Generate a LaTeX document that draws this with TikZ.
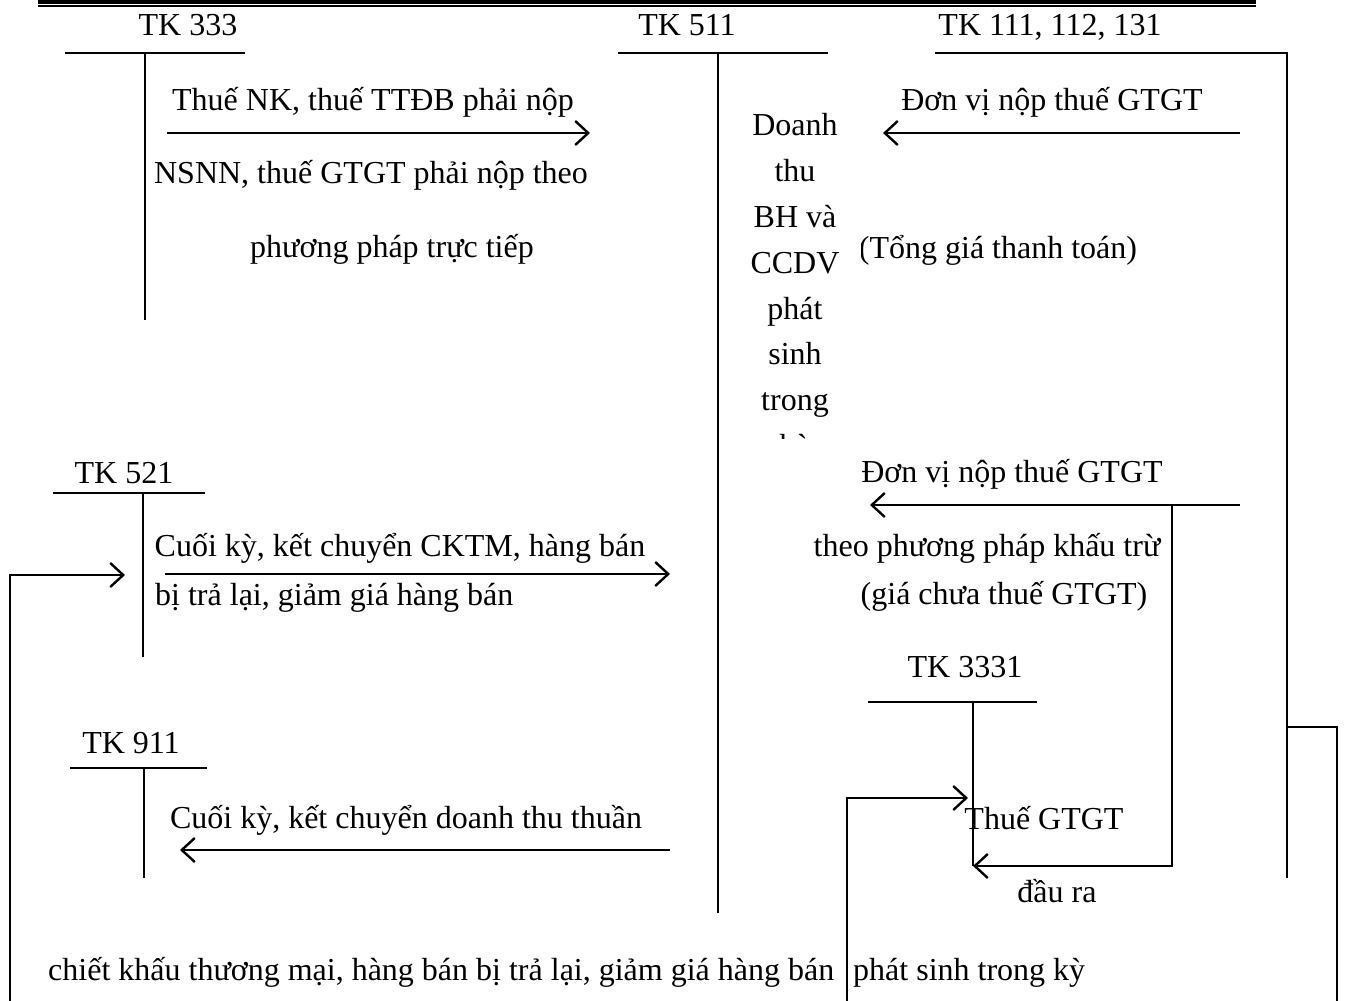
\documentclass[tikz,border=0pt]{standalone}
\usepackage{fontspec}
\setmainfont{Liberation Serif}
\usetikzlibrary{arrows.meta}
\begin{document}
\begin{tikzpicture}[x=1pt,y=-1pt,
  acct/.style={line width=2.6pt},
  conn/.style={line width=2.4pt},
  arr/.style={conn,-{Straight Barb[length=13pt,width=24pt,line width=2.4pt]}},
  lbl/.style={anchor=base,inner sep=0pt,font=\fontsize{32}{38}\selectfont},
]
\useasboundingbox (0,0) rectangle (1345,1001);

% header double rule
\coordinate (h1a) at (38,1.8); \coordinate (h1b) at (1256,1.8);
\coordinate (h2a) at (38,6); \coordinate (h2b) at (1256,6);
\draw[line width=3.6pt] (h1a) -- (h1b);
\draw[line width=2pt] (h2a) -- (h2b);

% ---------- T accounts ----------
% TK 333
\node[lbl] (t333) at (188,35) {TK 333};
\coordinate (a333L) at (65,53); \coordinate (a333R) at (245,53);
\coordinate (a333T) at (145,53); \coordinate (a333B) at (145,320);
\draw[acct] (a333L) -- (a333R);
\draw[acct] (a333T) -- (a333B);
% TK 511
\node[lbl] (t511) at (687,35) {TK 511};
\coordinate (a511L) at (618,53); \coordinate (a511R) at (828,53);
\coordinate (a511T) at (718,53); \coordinate (a511B) at (718,913);
\draw[acct] (a511L) -- (a511R);
\draw[acct] (a511T) -- (a511B);
% TK 111, 112, 131
\node[lbl] (t111) at (1050,35) {TK 111, 112, 131};
\coordinate (a111L) at (935,53); \coordinate (a111R) at (1287,53);
\coordinate (a111B) at (1287,878);
\draw[acct] (a111L) -- (a111R) -- (a111B);
% TK 521
\node[lbl] (t521) at (124,483) {TK 521};
\coordinate (a521L) at (53,493); \coordinate (a521R) at (205,493);
\coordinate (a521T) at (143,493); \coordinate (a521B) at (143,657);
\draw[acct] (a521L) -- (a521R);
\draw[acct] (a521T) -- (a521B);
% TK 3331
\node[lbl] (t3331) at (965,677) {TK 3331};
\coordinate (a3331L) at (868,702); \coordinate (a3331R) at (1037,702);
\coordinate (a3331T) at (973,702); \coordinate (a3331B) at (973,866);
\draw[acct] (a3331L) -- (a3331R);
\draw[acct] (a3331T) -- (a3331B);
% TK 911
\node[lbl] (t911) at (131,753) {TK 911};
\coordinate (a911L) at (70,768); \coordinate (a911R) at (207,768);
\coordinate (a911T) at (144,768); \coordinate (a911B) at (144,878);
\draw[acct] (a911L) -- (a911R);
\draw[acct] (a911T) -- (a911B);

% ---------- labels ----------
\node[lbl] (l1) at (373,110) {Thuế NK, thuế TTĐB phải nộp};
\node[lbl] (l2) at (371,183) {NSNN, thuế GTGT phải nộp theo};
\node[lbl] (l3) at (392,257) {phương pháp trực tiếp};
\node[lbl] (l4) at (1052,110) {Đơn vị nộp thuế GTGT};
\node[lbl] (l5) at (998,258) {(Tổng giá thanh toán)};
\node[lbl] (l6) at (1012,482) {Đơn vị nộp thuế GTGT};
\node[lbl] (l7) at (987,556) {theo phương pháp khấu trừ};
\node[lbl] (l8) at (1004,604) {(giá chưa thuế GTGT)};
\node[lbl] (l9) at (400,556) {Cuối kỳ, kết chuyển CKTM, hàng bán};
\node[lbl,anchor=base west] (l10) at (155,605) {bị trả lại, giảm giá hàng bán};
\node[lbl] (l11) at (406,828) {Cuối kỳ, kết chuyển doanh thu thuần};
\node[lbl] (l12) at (1044,829) {Thuế GTGT};
\node[lbl] (l13) at (1057,902) {đầu ra};
\node[lbl,anchor=base west] (l14) at (48,980) {chiết khấu thương mại, hàng bán bị trả lại, giảm giá hàng bán};
\node[lbl,anchor=base west] (l15) at (853,980) {phát sinh trong kỳ};

% text box of the revenue column (white, clips its text)
\fill[white] (745,100) rectangle (861,438);
\begin{scope}
\clip (745,100) rectangle (861,438);
\node[lbl] (d1) at (795,135) {Doanh};
\node[lbl] (d2) at (795,181) {thu};
\node[lbl] (d3) at (795,227) {BH và};
\node[lbl] (d4) at (795,273) {CCDV};
\node[lbl] (d5) at (795,319) {phát};
\node[lbl] (d6) at (795,364) {sinh};
\node[lbl] (d7) at (795,410) {trong};
\node[lbl] (d8) at (795,456) {kỳ};
\end{scope}

% ---------- connectors ----------
\coordinate (c1a) at (167,133); \coordinate (c1b) at (590,133);
\draw[arr] (c1a) -- (c1b);
\coordinate (c2a) at (1240,133); \coordinate (c2b) at (883,133);
\draw[arr] (c2a) -- (c2b);
\coordinate (c3a) at (10,1001); \coordinate (c3b) at (10,575); \coordinate (c3c) at (125,575);
\draw[arr] (c3a) -- (c3b) -- (c3c);
\coordinate (c4a) at (165,574); \coordinate (c4b) at (670,574);
\draw[arr] (c4a) -- (c4b);
\coordinate (c5a) at (1240,505); \coordinate (c5b) at (870,505);
\draw[arr] (c5a) -- (c5b);
\coordinate (c6a) at (1172,505); \coordinate (c6b) at (1172,866);
\draw[arr] (c6a) -- (c6b) -- (a3331B);
\coordinate (c7a) at (847,1001); \coordinate (c7b) at (847,798); \coordinate (c7c) at (968,798);
\draw[arr] (c7a) -- (c7b) -- (c7c);
\coordinate (c8a) at (670,850); \coordinate (c8b) at (180,850);
\draw[arr] (c8a) -- (c8b);
\coordinate (c9a) at (1287,727); \coordinate (c9b) at (1337,727); \coordinate (c9c) at (1337,1001);
\draw[conn] (c9a) -- (c9b) -- (c9c);
\end{tikzpicture}
\end{document}
